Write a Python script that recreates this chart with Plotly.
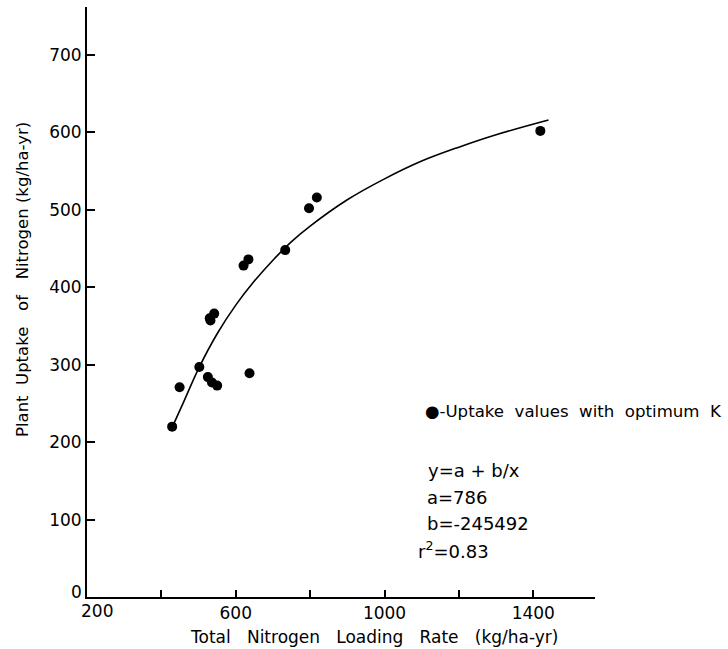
import plotly.graph_objects as go

# Observed data: total nitrogen loading rate vs plant uptake
loading_rate = [429, 449, 502, 525, 536, 550, 637, 530, 532, 542, 621, 634, 733, 797, 818, 1419]
plant_uptake = [220, 271, 297, 284, 277, 273, 289, 360, 357, 366, 428, 436, 448, 502, 516, 602]

# Fitted curve
curve_x = [429, 460, 500, 550, 600, 650, 700, 750, 800, 900, 1000, 1100, 1200, 1300, 1441]
curve_y = [219, 252, 295, 340, 377, 408, 435, 459, 479, 513, 540, 563, 581, 597, 616]

x_ticks = [200, 400, 600, 800, 1000, 1200, 1400]
x_tick_text = ["", "", "600", "", "1000", "", "1400"]
y_ticks = [100, 200, 300, 400, 500, 600, 700]
y_tick_text = [str(v) for v in y_ticks]

FONT = "DejaVu Sans"
W, H = 728, 649
L, R, T, B = 87, 133, 7, 52
PW, PH = W - L - R, H - T - B


def px(x):
    return (x - L) / PW


def py(y):
    return (H - B - y) / PH


fig = go.Figure()
fig.add_trace(go.Scatter(x=curve_x, y=curve_y, mode="lines",
                         line=dict(color="black", width=1.6, shape="spline"),
                         showlegend=False, hoverinfo="skip"))
fig.add_trace(go.Scatter(x=loading_rate, y=plant_uptake, mode="markers",
                         marker=dict(color="black", size=10),
                         showlegend=False))

ann = []
def add(text, x, y, size=17, xanchor="left", yanchor="middle", angle=0):
    ann.append(dict(text=text, x=px(x), y=py(y), xref="paper", yref="paper",
                    showarrow=False, xanchor=xanchor, yanchor=yanchor,
                    textangle=angle, font=dict(family=FONT, size=size, color="black")))

sp = "\u00a0\u00a0 "
add("0", 76, 592, xanchor="center")
add("200", 97, 611, xanchor="center")
add(sp.join(["Total", "Nitrogen", "Loading", "Rate", "(kg/ha-yr)"]), 374, 637, size=17, xanchor="center")
add("Plant\u00a0 Uptake\u00a0\u00a0 of\u00a0\u00a0 Nitrogen (kg/ha-yr)", 22, 280, size=16.5, xanchor="center", angle=-90)
add("\u25cf-Uptake\u00a0 values\u00a0 with\u00a0 optimum\u00a0 K", 423, 412, size=16.6)
add("y=a + b/x", 426, 470, size=18)
add("a=786", 425, 497, size=18)
add("b=-245492", 425, 523, size=18)
add("r<sup>2</sup>=0.83", 416, 550, size=18)

fig.update_layout(
    width=W, height=H,
    margin=dict(l=L, r=R, t=T, b=B),
    paper_bgcolor="white", plot_bgcolor="white",
    font=dict(family=FONT, size=17, color="black"),
    annotations=ann,
    xaxis=dict(range=[200, 1566], tickmode="array", tickvals=x_ticks, ticktext=x_tick_text,
               ticks="inside", ticklen=7, tickwidth=1.5, tickcolor="black",
               showline=True, linecolor="black", linewidth=2, showgrid=False, zeroline=False,
               tickfont=dict(family=FONT, size=17)),
    yaxis=dict(range=[0, 762], tickmode="array", tickvals=y_ticks, ticktext=y_tick_text,
               ticks="inside", ticklen=8, tickwidth=1.5, tickcolor="black",
               showline=True, linecolor="black", linewidth=2, showgrid=False, zeroline=False,
               tickfont=dict(family=FONT, size=17)),
)

fig.write_html("out.html")
